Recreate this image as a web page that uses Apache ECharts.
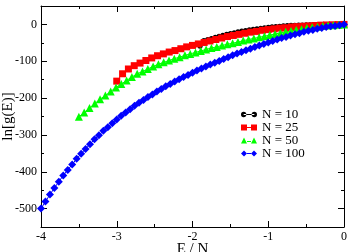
<!DOCTYPE html>
<html>
<head>
<meta charset="utf-8">
<script src="https://cdn.jsdelivr.net/npm/echarts@6/dist/echarts.min.js"></script>
<style>
  html, body { margin: 0; padding: 0; background: #fff; }
  #chart { width: 350px; height: 252px; }
</style>
</head>
<body>
<div id="chart"></div>
<script>
// ln g(E) against E/N, points evenly spaced between first and last E/N
var seriesNames = ['N = 10', 'N = 25', 'N = 50', 'N = 100'];
var xRange10 = [-1.9, 0];
var xRange25 = [-3, 0];
var xRange50 = [-3.5, 0];
var xRange100 = [-4, 0];

var lng10 = [-59, -44, -41, -38, -35, -32, -29.5, -27, -24.5, -22.3, -20.2, -18.2, -16.4, -14.7, -13.1,
    -11.6, -10.2, -8.9, -7.7, -6.6, -5.6, -4.7, -3.9, -3.2, -2.6, -2.1, -1.7, -1.3, -1, -0.8, -0.6,
    -0.4, -0.3, -0.2, -0.1, -0.1, 0, 0, 0];
var lng25 = [-154, -134, -121, -112, -105, -98, -91, -85, -80, -75, -71, -66, -61, -57, -53, -49, -45,
    -41, -37, -33, -30, -27, -24, -21, -19, -16, -14, -12, -10, -9, -7, -6, -5, -4, -3, -2, -1.5, -1, -0.5, 0];
var lng50 = [-251, -239, -227, -215, -203, -193, -182, -171, -162, -152, -143, -134, -128, -121, -114,
    -108, -103, -98, -93, -89, -84, -80, -76, -72, -68, -64, -61, -57, -54, -51, -48, -44, -41, -38,
    -35, -32, -29, -26, -23, -20, -18, -15, -13, -10, -8, -6, -4, -3, -2, -1, 0];
var lng100 = [-500, -481, -462, -444, -427, -410, -395, -380, -365, -351, -338, -325, -312, -301, -289,
    -279, -268, -258, -248, -239, -230, -221, -213, -205, -197, -190, -182, -175, -168, -162, -155,
    -149, -143, -137, -131, -125, -120, -114, -109, -104, -99, -94, -89, -84, -79, -75, -70, -66, -61,
    -57, -53, -49, -45, -41, -37, -34, -30, -27, -24, -20, -17, -15, -12, -10, -7, -5, -4, -2, 0];

var yMajorTicks = [-500, -400, -300, -200, -100, 0];
var yMinorTicks = [-550, -450, -350, -250, -150, -50, 50];

function pairs(range, vals) {
    var step = (range[1] - range[0]) / (vals.length - 1);
    return vals.map(function (v, i) { return [range[0] + i * step, v]; });
}

var serif = 'Liberation Serif, Times New Roman, serif';
// plain hyphen for negatives, like the original
var plainNum = function (v) { return String(v); };

// legend icons: marker - line - marker
var iconCircle = 'path://M0.5,3a2.5,2.5 0 1,0 5,0a2.5,2.5 0 1,0 -5,0Z M10.5,3a2.5,2.5 0 1,0 5,0a2.5,2.5 0 1,0 -5,0Z M3,2.5H13V3.5H3Z';
var iconRect = 'path://M0,0H6V6H0Z M10,0H16V6H10Z M6,2.5H10V3.5H6Z';
var iconTri = 'path://M0,6L3,0L6,6Z M10,6L13,0L16,6Z M6,3.5H10V4.5H6Z';
var iconDiamond = 'path://M3,0L6,3L3,6L0,3Z M13,0L16,3L13,6L10,3Z M6,2.5H10V3.5H6Z';

function xAx(pos, showLabels) {
    return {
        type: 'value', position: pos, min: -4, max: 0, interval: 1,
        name: showLabels ? 'E / N' : '', nameLocation: 'middle', nameGap: 15,
        nameMoveOverlap: false,
        nameTextStyle: { fontFamily: serif, fontSize: 15, color: '#000' },
        axisLine: { show: true, onZero: false, lineStyle: { color: '#000', width: 1 } },
        axisTick: { show: true, inside: true, length: 6, lineStyle: { color: '#000' } },
        minorTick: { show: true, splitNumber: 2, length: 3, lineStyle: { color: '#000' } },
        axisLabel: { show: showLabels, formatter: plainNum, fontFamily: serif, fontSize: 12, color: '#000', margin: 4 },
        splitLine: { show: false }
    };
}

function yAx(pos, ticks, len, showLabels, showLine) {
    return {
        type: 'value', position: pos, min: -550, max: 50, interval: 50,
        name: showLabels ? 'ln[g(E)]' : '', nameLocation: 'middle', nameGap: 25, nameRotate: 90,
        nameMoveOverlap: false,
        nameTextStyle: { fontFamily: serif, fontSize: 15, color: '#000' },
        axisLine: { show: showLine, onZero: false, lineStyle: { color: '#000', width: 1 } },
        axisTick: { show: true, inside: true, length: len, customValues: ticks, lineStyle: { color: '#000' } },
        axisLabel: { show: showLabels, customValues: ticks, formatter: plainNum, fontFamily: serif, fontSize: 12, color: '#000', margin: 4 },
        splitLine: { show: false }
    };
}

var chart = echarts.init(document.getElementById('chart'), null, { renderer: 'canvas' });

chart.setOption({
    animation: false,
    backgroundColor: '#fff',
    grid: { left: 41, right: 6, top: 6, bottom: 25, containLabel: false, outerBoundsMode: 'none' },
    legend: {
        orient: 'vertical', left: 236, top: 103,
        itemWidth: 16, itemHeight: 6, itemGap: 0,
        textStyle: { fontFamily: serif, fontSize: 13, color: '#000', lineHeight: 11.8 },
        data: [
            { name: seriesNames[0], icon: iconCircle },
            { name: seriesNames[1], icon: iconRect },
            { name: seriesNames[2], icon: iconTri },
            { name: seriesNames[3], icon: iconDiamond }
        ]
    },
    xAxis: [xAx('bottom', true), xAx('top', false)],
    yAxis: [
        yAx('left', yMajorTicks, 6, true, true),
        yAx('left', yMinorTicks, 3, false, false),
        yAx('right', yMajorTicks, 6, false, true),
        yAx('right', yMinorTicks, 3, false, false)
    ],
    series: [
        { name: seriesNames[0], type: 'line', data: pairs(xRange10, lng10), symbol: 'circle', symbolSize: 5,
          itemStyle: { color: '#000' }, lineStyle: { width: 1, color: '#000' } },
        { name: seriesNames[1], type: 'line', data: pairs(xRange25, lng25), symbol: 'rect', symbolSize: 7,
          itemStyle: { color: '#ff0000' }, lineStyle: { width: 1, color: '#ff0000' } },
        { name: seriesNames[2], type: 'line', data: pairs(xRange50, lng50), symbol: 'triangle', symbolSize: 8,
          itemStyle: { color: '#00ff00' }, lineStyle: { width: 1, color: '#00ff00' } },
        { name: seriesNames[3], type: 'line', data: pairs(xRange100, lng100), symbol: 'diamond', symbolSize: 8,
          itemStyle: { color: '#0000ff' }, lineStyle: { width: 1, color: '#0000ff' } }
    ]
});
</script>
</body>
</html>
